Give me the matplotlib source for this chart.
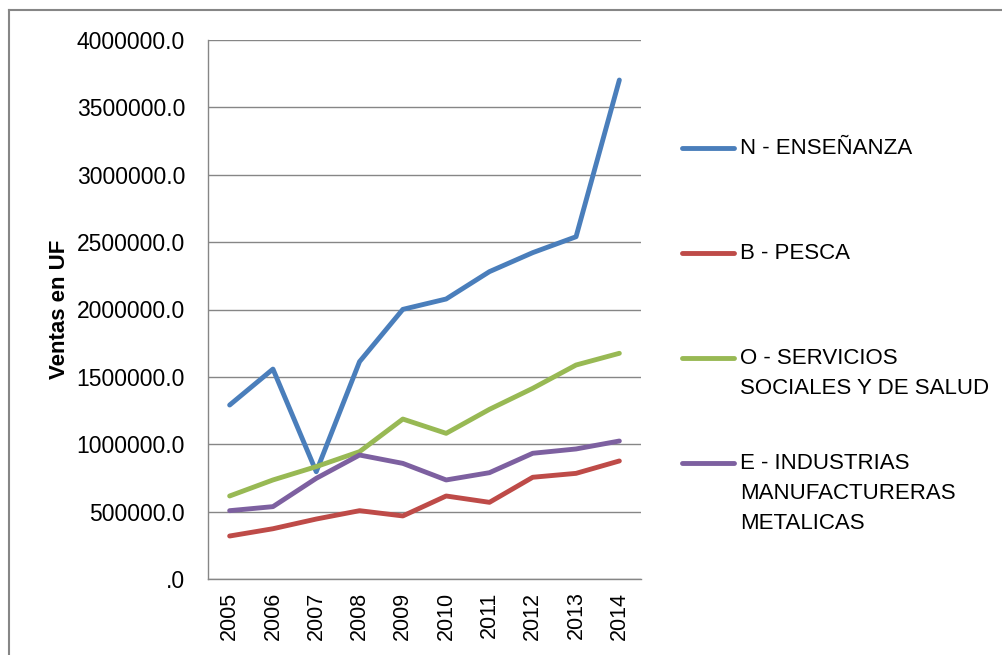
import matplotlib
matplotlib.use("Agg")
from matplotlib import pyplot as plt
from matplotlib import font_manager
from matplotlib.lines import Line2D
from matplotlib.ticker import FuncFormatter, MultipleLocator

years = ["2005", "2006", "2007", "2008", "2009", "2010", "2011", "2012", "2013", "2014"]

ensenanza = [1291000, 1558000, 796000, 1613000, 2001000, 2078000, 2281000, 2422000, 2540000, 3703000]
pesca = [319000, 373000, 445000, 507000, 468000, 616000, 569000, 755000, 784000, 876000]
servicios = [616000, 735000, 834000, 945000, 1187000, 1081000, 1259000, 1415000, 1588000, 1675000]
industrias = [507000, 537000, 747000, 920000, 858000, 735000, 789000, 933000, 965000, 1024000]

labels = [
    "N - ENSEÑANZA",
    "B - PESCA",
    "O - SERVICIOS\nSOCIALES Y DE SALUD",
    "E - INDUSTRIAS\nMANUFACTURERAS\nMETALICAS",
]
series = [ensenanza, pesca, servicios, industrias]
colors = ["#4A7EBB", "#BE4B48", "#98B954", "#7D60A0"]


def pick_font(names):
    for name in names:
        try:
            font_manager.findfont(font_manager.FontProperties(family=name), fallback_to_default=False)
            return name
        except ValueError:
            continue
    return "DejaVu Sans"


REGULAR = pick_font(["Liberation Sans", "Arial"])
GRID = "#868686"

fig = plt.figure(figsize=(10.02, 6.55), dpi=100)
W, H = 1002, 655

# outer chart frame (only top and left edges are visible in the crop)
fig.add_artist(Line2D([9 / W, 9 / W], [0, 1 - 10 / H], color=GRID, lw=1.5))
fig.add_artist(Line2D([9 / W, 1], [1 - 10 / H, 1 - 10 / H], color=GRID, lw=1.5))

ax = fig.add_axes([208 / W, 1 - 579 / H, 433 / W, 539 / H])
x = list(range(len(years)))
for vals, col, lab in zip(series, colors, labels):
    ax.plot(x, vals, color=col, lw=3.5, solid_capstyle="round", solid_joinstyle="round", label=lab)

ax.set_xlim(-0.5, len(years) - 0.5)
ax.set_ylim(0, 4000000)
ax.yaxis.set_major_locator(MultipleLocator(500000))
ax.yaxis.set_major_formatter(FuncFormatter(lambda v, p: (f"{v:.1f}" if v else ".0")))
ax.grid(axis="y", color=GRID, lw=1.0)
ax.set_axisbelow(True)
for s in ["top", "right"]:
    ax.spines[s].set_visible(False)
for s in ["left", "bottom"]:
    ax.spines[s].set_color(GRID)
    ax.spines[s].set_linewidth(1.0)

ax.set_xticks(x)
ax.set_xticklabels(years, rotation=90, fontsize=15.5, family=REGULAR)
ax.tick_params(axis="x", length=0, pad=9)
ax.tick_params(axis="y", length=0, pad=16.5, labelsize=16.5)
for t in ax.get_yticklabels():
    t.set_family(REGULAR)

ax.set_ylabel("Ventas en UF", fontsize=16, fontweight="bold", family=REGULAR)
ax.yaxis.set_label_coords((70 - 208) / 433, 0.5)

# legend laid out like the spreadsheet one
first_rows = [148, 253, 358, 463]
for yy, col, lab in zip(first_rows, colors, labels):
    fy = 1 - yy / H
    fig.add_artist(Line2D([682 / W, 734 / W], [fy, fy], color=col, lw=3.5, solid_capstyle="round"))
    fig.text(740 / W, 1 - (yy - 10) / H, lab, fontsize=16, family=REGULAR, va="top", ha="left",
             linespacing=1.55)

plt.savefig("out.png", dpi=100)
